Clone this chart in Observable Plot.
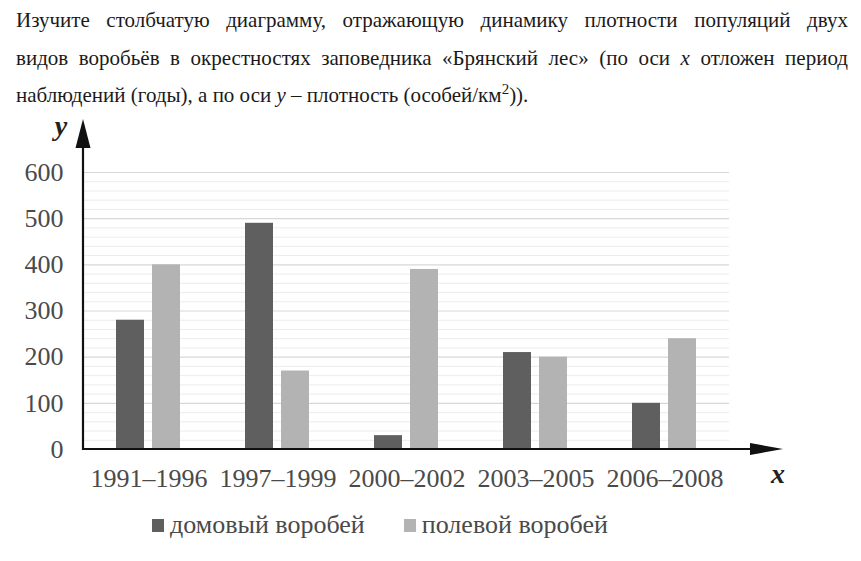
<!DOCTYPE html>
<html lang="ru">
<head>
<meta charset="utf-8">
<style>
  html, body { margin: 0; padding: 0; background: #fff; }
  body { width: 861px; height: 561px; position: relative; overflow: hidden; font-family: 'Liberation Serif'; }
  #title { position: absolute; left: 16px; top: 2px; width: 832px; font-size: 21px; line-height: 37.5px; color: #1a1a1a; }
  #title .ln { text-align: justify; text-align-last: justify; white-space: nowrap; }
  #title .ln.last { text-align-last: left; }
  #title sup { font-size: 15px; line-height: 0; vertical-align: 8px; }
  #chart { position: absolute; left: 0; top: 110px; }
  #chart svg text { font-family: 'Liberation Serif'; font-size: 26px; fill: #4a4a4a; }
  #legend { position: absolute; left: 152px; top: 510px; display: flex; align-items: center; font-size: 26px; line-height: 30px; color: #4a4a4a; }
  #legend .item { display: flex; align-items: center; margin-right: 39px; }
  #legend .sw { width: 12px; height: 13px; margin-right: 6px; display: inline-block; }
</style>
<script src="https://cdn.jsdelivr.net/npm/d3@7"></script>
<script src="https://cdn.jsdelivr.net/npm/@observablehq/plot@0.6"></script>
</head>
<body>
<div id="title" style="font-family:'Liberation Serif'">
  <div class="ln" style="font-family:'Liberation Serif'">Изучите столбчатую диаграмму, отражающую динамику плотности популяций двух</div>
  <div class="ln" style="font-family:'Liberation Serif'">видов воробьёв в окрестностях заповедника «Брянский лес» (по оси <i>x</i> отложен период</div>
  <div class="ln last" style="font-family:'Liberation Serif'">наблюдений (годы), а по оси <i>y</i> – плотность (особей/км<sup>2</sup>)).</div>
</div>
<div id="chart"></div>
<div id="legend" style="font-family:'Liberation Serif'"></div>
<script>
const periods = ["1991–1996", "1997–1999", "2000–2002", "2003–2005", "2006–2008"];
const species = ["домовый воробей", "полевой воробей"];
const houseSparrow = [280, 490, 30, 210, 100];
const fieldSparrow = [400, 170, 390, 200, 240];
const yTicks = [0, 100, 200, 300, 400, 500, 600];
const yMinor = [20, 40, 60, 80, 120, 140, 160, 180, 220, 240, 260, 280, 320, 340, 360, 380, 420, 440, 460, 480, 520, 540, 560, 580];
const colors = ["#5f5f5f", "#b3b3b3"];

const rows = [];
periods.forEach((p, i) => {
  rows.push({period: p, species: species[0], value: houseSparrow[i]});
  rows.push({period: p, species: species[1], value: fieldSparrow[i]});
});

const W = 861, H = 390, ML = 83, MR = 131, MT = 62, MB = 51;
const SERIF = "Liberation Serif";

const plot = Plot.plot({
  width: W, height: H,
  marginLeft: ML, marginRight: MR, marginTop: MT, marginBottom: MB,
  style: {fontFamily: SERIF, fontSize: "26px", color: "#4a4a4a", background: "transparent", overflow: "visible"},
  facet: {data: rows, x: "period"},
  fx: {domain: periods, padding: 0, axis: "bottom", tickSize: 0, tickPadding: 19, label: null},
  x: {domain: species, paddingInner: 0.216, paddingOuter: 0.858, axis: null},
  y: {domain: [0, 600], ticks: yTicks, tickSize: 0, tickPadding: 21, label: null},
  color: {domain: species, range: colors},
  marks: [
    Plot.ruleY(yMinor, {stroke: "#ececec", strokeWidth: 1}),
    Plot.ruleY(yTicks.slice(1), {stroke: "#d8d8d8", strokeWidth: 1.2}),
    Plot.barY(rows, {x: "species", y: "value", fill: "species"})
  ]
});

document.getElementById("chart").appendChild(plot);
d3.select(plot).selectAll("text").attr("font-family", SERIF).style("font-family", "'Liberation Serif'");

let yS;
try {
  const ys = plot.scale("y");
  yS = d3.scaleLinear(ys.domain, ys.range);
} catch (e) {
  yS = d3.scaleLinear([0, 600], [H - MB, MT]);
}
const x0 = ML, x1 = W - MR;
const y0 = yS(0), yTop = yS(d3.max(yTicks));
const svg = d3.select(plot);
const g = svg.append("g");
g.append("path")
  .attr("d", `M${x0},${y0}H${x1 + 30}`)
  .attr("stroke", "#111").attr("stroke-width", 2.2).attr("fill", "none");
g.append("path")
  .attr("d", `M${x0},${y0 + 1}V${yTop - 30}`)
  .attr("stroke", "#111").attr("stroke-width", 2.2).attr("fill", "none");
g.append("path")
  .attr("d", `M${x1 + 53},${y0}L${x1 + 20},${y0 - 6}L${x1 + 20},${y0 + 6}Z`)
  .attr("fill", "#111");
g.append("path")
  .attr("d", `M${x0},${yTop - 53}L${x0 - 7.5},${yTop - 24}L${x0 + 7.5},${yTop - 24}Z`)
  .attr("fill", "#111");
const lblStyle = "font-family:'Liberation Serif';font-size:28px;font-style:italic;font-weight:bold;fill:#222";
g.append("text").text("y")
  .attr("x", x0 - 22).attr("y", yTop - 47).attr("dy", "0.35em")
  .attr("text-anchor", "middle").attr("style", lblStyle);
g.append("text").text("x")
  .attr("x", x1 + 48).attr("y", y0 + 24).attr("dy", "0.35em")
  .attr("text-anchor", "middle").attr("style", lblStyle);

const legend = d3.select("#legend");
species.forEach((s, i) => {
  const item = legend.append("div").attr("class", "item");
  item.append("span").attr("class", "sw").style("background", colors[i]);
  item.append("span").text(s).style("font-family", "'Liberation Serif'");
});
</script>
</body>
</html>
